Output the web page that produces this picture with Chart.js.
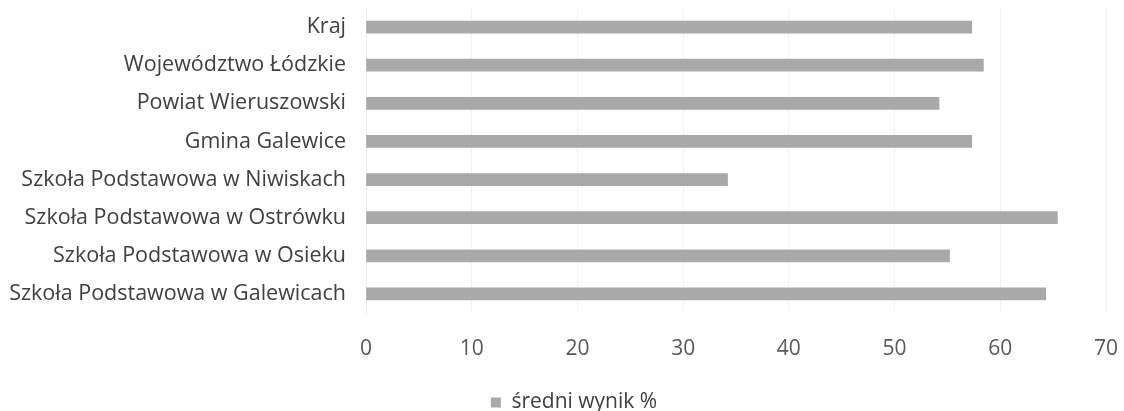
<!DOCTYPE html>
<html>
<head>
<meta charset="utf-8">
<script src="https://cdn.jsdelivr.net/npm/chart.js@4"></script>
<style>
  html, body { margin: 0; padding: 0; background: #fff; }
  #wrap { width: 1124px; height: 411px; }
</style>
</head>
<body>
<div id="wrap"><canvas id="chart"></canvas></div>
<script>
// categories top to bottom, as in the picture
var categories = [
    "Kraj",
    "Województwo Łódzkie",
    "Powiat Wieruszowski",
    "Gmina Galewice",
    "Szkoła Podstawowa w Niwiskach",
    "Szkoła Podstawowa w Ostrówku",
    "Szkoła Podstawowa w Osieku",
    "Szkoła Podstawowa w Galewicach"
];
var seriesName = "średni wynik %";
var seriesValues = [57.3, 58.4, 54.2, 57.3, 34.2, 65.4, 55.2, 64.3];
var xTicks = [0, 10, 20, 30, 40, 50, 60, 70];

let fontFamily = "'Open Sans', 'Noto Sans', sans-serif";

// the legend sits a little right of the canvas centre in the original
let legendShift = {
    id: 'legendShift',
    afterLayout: function (chart) {
        chart.legend.left += 21;
        chart.legend.right += 21;
    }
};

let ctx = document.getElementById('chart');
new Chart(ctx, {
    type: 'bar',
    data: {
        labels: categories,
        datasets: [{
            label: seriesName,
            data: seriesValues,
            backgroundColor: '#a9a9a9',
            barThickness: 12
        }]
    },
    options: {
        indexAxis: 'y',
        responsive: true,
        maintainAspectRatio: false,
        animation: false,
        layout: {
            padding: { top: 8, right: 18, bottom: -12, left: 0 }
        },
        scales: {
            x: {
                min: 0,
                max: 70,
                afterBuildTicks: function (scale) {
                    scale.ticks = xTicks.map(function (v) { return { value: v }; });
                },
                afterFit: function (scale) {
                    // tick padding would otherwise be added to the sides too
                    scale.paddingLeft = 0;
                    scale.paddingRight = 0;
                    scale.height = 79;
                },
                grid: { color: '#f2f2f2', drawTicks: false },
                border: { display: false },
                ticks: {
                    padding: 23,
                    color: '#595959',
                    font: { family: fontFamily, size: 21 }
                }
            },
            y: {
                afterFit: function (scale) {
                    scale.width = 366;
                    scale.paddingTop = 0;
                    scale.paddingBottom = 0;
                },
                grid: { display: false, drawTicks: false },
                border: { color: '#f0f0f0' },
                ticks: {
                    padding: 20,
                    color: '#404040',
                    font: { family: fontFamily, size: 21.5 }
                }
            }
        },
        plugins: {
            legend: {
                position: 'bottom',
                labels: {
                    boxWidth: 10,
                    boxHeight: 10,
                    padding: 0,
                    color: '#404040',
                    font: { family: fontFamily, size: 21 }
                }
            },
            tooltip: { enabled: false }
        }
    },
    plugins: [legendShift]
});
</script>
</body>
</html>
